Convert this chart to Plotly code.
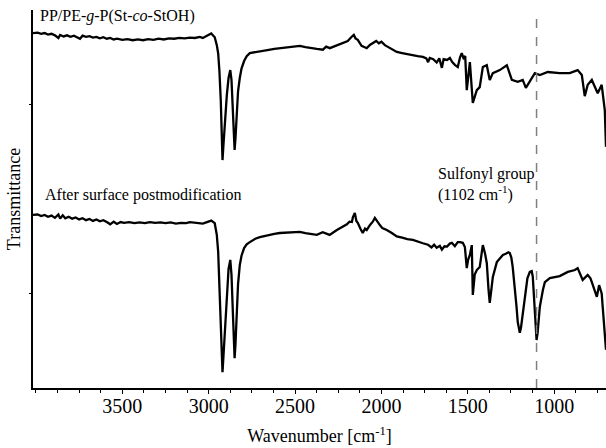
import plotly.graph_objects as go

# Wavenumber (cm-1) and transmittance (arbitrary units)
wn_top = [4017, 3990, 3970, 3950, 3930, 3910, 3890, 3870, 3860, 3840, 3820, 3800, 3780, 3760, 3745,
          3730, 3710, 3690, 3670, 3650, 3630, 3610, 3590, 3570, 3550, 3530, 3500, 3470, 3440, 3410,
          3380, 3350, 3320, 3290, 3260, 3230, 3200, 3170, 3140, 3109, 3080, 3051, 3034, 3010, 2985,
          2965, 2953, 2945, 2938, 2930, 2925, 2920, 2915, 2905, 2895, 2885, 2875, 2868, 2860, 2855,
          2850, 2845, 2838, 2830, 2820, 2810, 2795, 2780, 2762,
          2730, 2704, 2660, 2620, 2588, 2540, 2500, 2472, 2440, 2410, 2374, 2339, 2320, 2299, 2258,
          2223, 2195, 2175, 2160, 2150, 2137, 2115, 2100, 2085, 2065, 2050, 2030, 2015, 2000, 1980,
          1960, 1940, 1911, 1880, 1850, 1818, 1790, 1760, 1740, 1730, 1720, 1700, 1680, 1665, 1650,
          1640, 1620, 1604, 1590, 1575, 1558, 1545, 1535, 1525, 1515, 1506, 1488, 1471, 1448, 1431,
          1413, 1390, 1373, 1355, 1315, 1274, 1245, 1211, 1182, 1164, 1141, 1112, 1083, 1037, 968,
          910, 864, 840, 823, 806, 782, 765, 748, 725, 707, 700]
t_top = [93.9, 94.0, 93.7, 93.9, 93.5, 93.7, 93.3, 92.6, 93.4, 93.0, 93.3, 92.9, 93.2, 92.7, 92.4,
         93.2, 92.9, 93.1, 92.7, 92.9, 92.5, 92.8, 92.4, 92.6, 92.2, 92.4, 92.1, 92.3, 92.0, 92.2,
         92.0, 92.3, 92.1, 92.4, 92.2, 92.5, 92.4, 92.6, 92.5, 92.7, 92.6, 92.9, 92.6, 93.2, 93.8,
         92.8, 90.7, 88.5, 84.0, 76.0, 68.0, 60.3, 64.0, 71.0, 77.5, 82.0, 84.1, 81.5, 74.0, 67.5,
         63.0, 66.0, 73.0, 78.5, 82.0, 84.5, 86.5, 87.8, 88.6,
         88.9, 89.0, 89.4, 89.7, 89.9, 90.2, 90.4, 90.5, 90.2, 89.9, 89.7, 89.5, 90.3, 89.9, 90.6,
         91.3, 91.8, 92.8, 93.4, 92.5, 92.1, 90.5, 90.2, 89.9, 90.8, 91.3, 91.8, 91.2, 91.6, 90.7,
         90.2, 89.6, 88.9, 88.6, 88.3, 88.1, 87.8, 87.6, 87.2, 86.2, 87.3, 87.0, 86.1, 87.2, 84.7,
         87.0, 86.8, 87.3, 86.2, 85.5, 84.9, 87.5, 88.6, 87.3, 87.8, 78.8, 86.2, 75.4, 78.8, 79.6,
         84.9, 85.4, 81.5, 83.3, 84.1, 85.4, 81.5, 81.0, 81.5, 79.4, 81.0, 83.3, 82.8, 83.6, 83.3,
         83.3, 84.1, 82.8, 77.2, 80.2, 81.5, 79.6, 78.0, 80.2, 73.5, 63.8]

wn_bot = [4017, 3990, 3970, 3950, 3930, 3910, 3890, 3870, 3860, 3845, 3830, 3810, 3790, 3770, 3750,
          3730, 3710, 3690, 3670, 3650, 3630, 3610, 3590, 3570, 3550, 3531, 3510, 3490, 3460, 3430,
          3400, 3370, 3340, 3310, 3280, 3250, 3220, 3190, 3160, 3130, 3109, 3080, 3051, 3034, 3010,
          2985, 2965, 2953, 2945, 2938, 2930, 2925, 2920, 2915, 2905, 2895, 2885, 2875, 2868, 2860,
          2855, 2850, 2845, 2838, 2830, 2820, 2810, 2795, 2780, 2762,
          2730, 2704, 2660, 2620, 2588, 2540, 2500, 2472, 2440, 2410, 2374, 2340, 2300, 2258,
          2223, 2200, 2185, 2171, 2165, 2154, 2145, 2137, 2120, 2108, 2095, 2085, 2065, 2050, 2038,
          2025, 2009, 1995, 1980, 1969, 1940, 1911, 1880, 1850, 1818, 1790, 1760, 1730, 1710, 1695,
          1680, 1662, 1650, 1635, 1620, 1604, 1592, 1575, 1558, 1546, 1529, 1517, 1506, 1498, 1488,
          1477, 1471, 1460, 1448, 1431, 1413, 1400, 1390, 1380, 1373, 1365, 1355, 1332, 1297, 1280,
          1265, 1257, 1248, 1240, 1228, 1218, 1211, 1205, 1199, 1192, 1185, 1170, 1155, 1141, 1130,
          1124, 1117, 1112, 1106, 1102, 1096, 1090, 1083, 1065, 1054, 1025, 968,
          921, 880, 864, 845, 835, 806, 790, 782, 753, 740, 725, 719, 707, 700]
t_bot = [45.8, 45.9, 45.5, 45.8, 45.3, 45.6, 45.0, 45.9, 44.8, 45.7, 44.9, 45.3, 44.8, 45.1, 44.6,
         44.9, 44.4, 44.7, 44.2, 44.6, 44.1, 44.4, 43.9, 43.3, 44.0, 43.4, 43.9, 43.7, 43.9, 43.6,
         43.8, 43.6, 43.9, 43.7, 43.8, 43.6, 43.8, 43.5, 43.7, 43.6, 43.9, 43.7, 43.7, 43.5, 43.9,
         44.3, 43.6, 40.5, 36.0, 28.0, 18.0, 10.0, 4.2, 8.0, 17.0, 26.0, 31.5, 33.9, 30.0, 20.0,
         12.5, 7.9, 11.5, 20.0, 27.5, 32.5, 35.0, 37.0, 38.0, 38.6,
         39.5, 39.9, 40.4, 40.8, 41.0, 41.2, 41.3, 41.3, 41.0, 40.7, 40.5, 41.2, 40.5, 41.8,
         42.6, 43.3, 44.0, 43.9, 45.2, 46.3, 44.2, 43.7, 42.0, 41.0, 42.2, 41.8, 43.2, 44.0, 45.0,
         44.0, 43.1, 42.3, 42.0, 41.8, 41.0, 40.1, 39.8, 39.4, 39.2, 38.7, 38.3, 37.9, 37.2, 37.9,
         37.1, 37.6, 36.6, 37.5, 37.4, 38.2, 38.4, 37.5, 38.6, 38.6, 38.4, 37.3, 31.7, 34.0, 35.2,
         37.8, 24.6, 30.0, 31.2, 32.0, 37.8, 35.5, 33.0, 26.0, 22.5, 25.5, 29.4, 33.3, 35.2, 35.5,
         35.9, 35.7, 34.5, 32.0, 27.0, 21.5, 17.5, 15.3, 14.6, 16.0, 18.5, 24.0, 29.0, 30.7, 30.9,
         29.5, 24.0, 18.5, 14.0, 12.7, 14.5, 18.0, 21.5, 26.0, 28.0, 29.1, 29.6,
         30.7, 31.2, 31.7, 29.5, 28.6, 29.9, 29.0, 28.0, 24.1, 27.2, 25.0, 21.4, 15.0, 10.1]

x_ticks = [3500, 3000, 2500, 2000, 1500, 1000]
y_ticks = [25, 75]
marker_wn = 1102

FONT = "Liberation Serif"

fig = go.Figure()
for wn, t in [(wn_top, t_top), (wn_bot, t_bot)]:
    fig.add_trace(go.Scatter(x=wn, y=t, mode="lines",
                             line=dict(color="black", width=2.3), showlegend=False,
                             hoverinfo="skip"))

fig.add_shape(type="line", xref="x", yref="y", x0=marker_wn, x1=marker_wn, y0=0, y1=99.2,
              line=dict(color="#808080", width=1.5, dash="dash"))

fig.add_annotation(x=3988, y=98.4, xref="x", yref="y", xanchor="left", yanchor="middle",
                   text="PP/PE-<i>g</i>-P(St-<i>co</i>-StOH)", showarrow=False,
                   font=dict(family=FONT, size=16, color="black"))
fig.add_annotation(x=3960, y=51.0, xref="x", yref="y", xanchor="left", yanchor="middle",
                   text="After surface postmodification", showarrow=False,
                   font=dict(family=FONT, size=16, color="black"))
fig.add_annotation(x=1685, y=53.8, xref="x", yref="y", xanchor="left", yanchor="middle",
                   text="Sulfonyl group<br>(1102 cm<sup>-1</sup>)", showarrow=False, align="left",
                   font=dict(family=FONT, size=16, color="black"))

fig.update_layout(
    width=606, height=448,
    margin=dict(l=33, r=0, t=10, b=60),
    paper_bgcolor="white", plot_bgcolor="white",
    font=dict(family=FONT, color="black"),
    xaxis=dict(range=[4017, 700], tickvals=x_ticks, ticks="outside", ticklen=4,
               tickwidth=1, tickcolor="black", showline=True, linecolor="black", linewidth=1.5,
               showgrid=False, zeroline=False, tickfont=dict(family=FONT, size=20),
               ticklabelstandoff=-5,
               minor=dict(dtick=125, tick0=4000, ticks="outside", ticklen=3, tickcolor="black",
                          showgrid=False),
               title=dict(text="Wavenumber [cm<sup>-1</sup>]", font=dict(family=FONT, size=18),
                          standoff=14)),
    yaxis=dict(range=[0, 100], tickvals=y_ticks, showticklabels=False, ticks="outside",
               ticklen=2, tickcolor="black", showline=True, linecolor="black", linewidth=1.5,
               showgrid=False, zeroline=False,
               title=dict(text="Transmittance", font=dict(family=FONT, size=18), standoff=4)),
)

fig.write_html("out.html")
